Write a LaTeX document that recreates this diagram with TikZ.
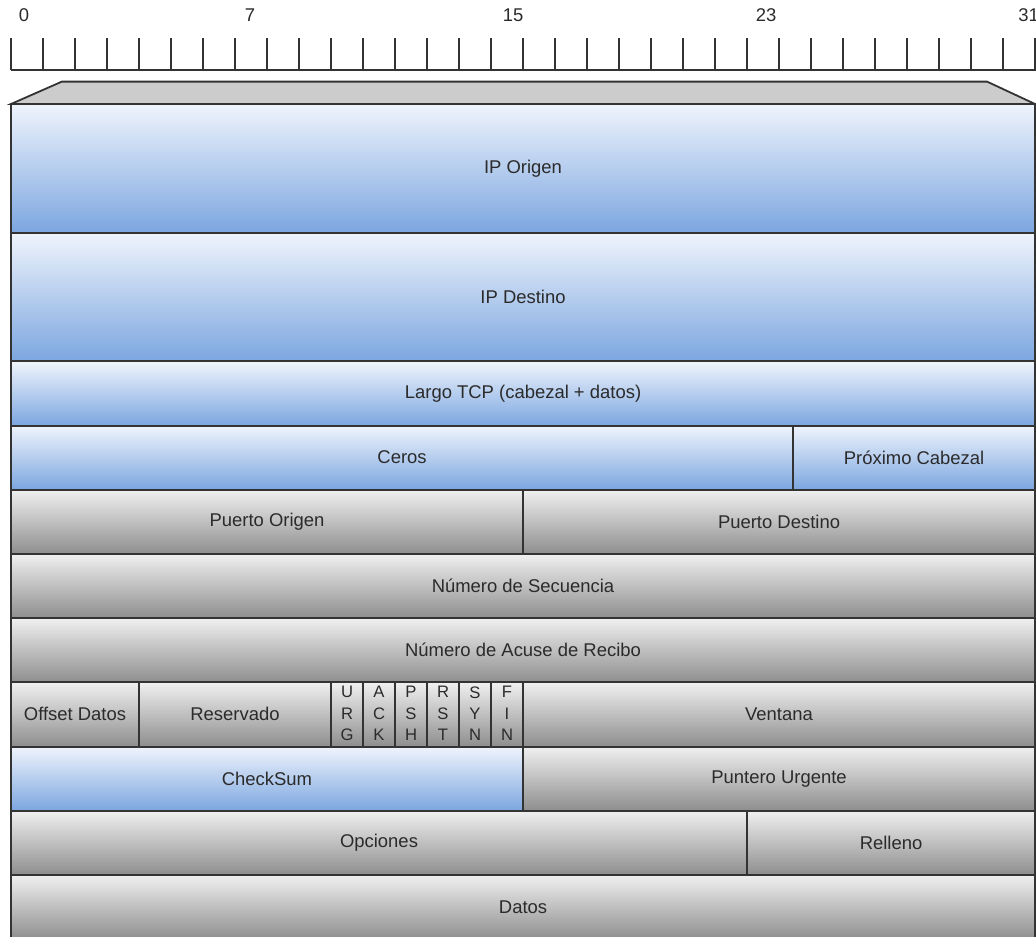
\documentclass[tikz,border=0pt]{standalone}
\usepackage{fontspec}
\setmainfont{Liberation Sans}
\definecolor{azularr}{HTML}{EFF4FC}
\definecolor{azulab}{HTML}{7CA6E0}
\definecolor{grisarr}{HTML}{F0F0F0}
\definecolor{grisab}{HTML}{8E8E8E}
\definecolor{borde}{HTML}{333333}
\definecolor{texto}{HTML}{2B2B2B}

\begin{document}
\begin{tikzpicture}[x=0.5cm,y=0.5cm,font=\fontsize{8.2}{10}\selectfont,text=texto]
		% --- Unidad: 1 bit = 0.5 cm, filas de 32 bits ---
		\useasboundingbox (-0.344,0) rectangle (32.03,-29.25);
		\tikzset{bcelda/.style={top color=azularr, bottom color=azulab, draw=borde, line width=0.8pt},
			gcelda/.style={top color=grisarr, bottom color=grisab, draw=borde, line width=0.8pt},
			flag/.style={font=\fontsize{7.4}{9.5}\selectfont, align=center, inner sep=0pt}}

		% --- Regla de bits ---
		\foreach \i in {0,...,32} \draw[borde, line width=0.6pt] (\i,-1.19) -- (\i,-2.19);
		\draw[borde, line width=0.6pt] (0,-2.19) -- (32.03,-2.19);
		\foreach \x/\b in {0.41/0, 7.47/7, 15.69/15, 23.6/23, 31.8/31}
			\node (b\b) at (\x,-0.47) {\b};

		% --- Tapa del cabezal ---
		\draw[fill=black!20, draw=borde, line width=0.8pt] (0,-3.25) -- (1.59,-2.55) -- (30.5,-2.55) -- (32,-3.25) -- cycle;

		% --- Pseudo-cabezal (azul) ---
		\draw[bcelda] (0,-3.25) rectangle (32,-7.27);  \node (iporig) at (16,-5.26) {IP Origen};
		\draw[bcelda] (0,-7.27) rectangle (32,-11.29); \node (ipdest) at (16,-9.28) {IP Destino};
		\draw[bcelda] (0,-11.29) rectangle (32,-13.3); \node (largo) at (16,-12.3) {Largo TCP (cabezal + datos)};
		\draw[bcelda] (0,-13.3) rectangle (24.44,-15.3); \node (ceros) at (12.22,-14.3) {Ceros};
		\draw[bcelda] (24.44,-13.3) rectangle (32,-15.3); \node (proxcab) at (28.22,-14.3) {Próximo Cabezal};

		% --- Cabezal TCP (gris) ---
		\draw[gcelda] (0,-15.3) rectangle (16,-17.31);  \node (ptoorig) at (8,-16.3) {Puerto Origen};
		\draw[gcelda] (16,-15.3) rectangle (32,-17.31); \node (ptodest) at (24,-16.3) {Puerto Destino};
		\draw[gcelda] (0,-17.31) rectangle (32,-19.31); \node (numsec) at (16,-18.31) {Número de Secuencia};
		\draw[gcelda] (0,-19.31) rectangle (32,-21.32); \node (numack) at (16,-20.31) {Número de Acuse de Recibo};
		\draw[gcelda] (0,-21.32) rectangle (4,-23.33);  \node (offset) at (2,-22.32) {Offset Datos};
		\draw[gcelda] (4,-21.32) rectangle (10,-23.33); \node (reserv) at (7,-22.32) {Reservado};
		\foreach \i/\f/\txt in {10/urg/{U\\R\\G}, 11/ack/{A\\C\\K}, 12/psh/{P\\S\\H}, 13/rst/{R\\S\\T}, 14/syn/{S\\Y\\N}, 15/fin/{F\\I\\N}} {
			\draw[gcelda] (\i,-21.32) rectangle (\i+1,-23.33);
			\node[flag] (\f) at (\i+0.5,-22.3) {\txt};
		}
		\draw[gcelda] (16,-21.32) rectangle (32,-23.33); \node (ventana) at (24,-22.32) {Ventana};
		\draw[bcelda] (0,-23.33) rectangle (16,-25.33);  \node (checksum) at (8,-24.33) {CheckSum};
		\draw[gcelda] (16,-23.33) rectangle (32,-25.33); \node (puntero) at (24,-24.33) {Puntero Urgente};
		\draw[gcelda] (0,-25.33) rectangle (23,-27.34);  \node (opciones) at (11.5,-26.33) {Opciones};
		\draw[gcelda] (23,-25.33) rectangle (32,-27.34); \node (relleno) at (27.5,-26.33) {Relleno};
		\draw[gcelda] (0,-27.34) rectangle (32,-29.35);  \node (datos) at (16,-28.34) {Datos};
\end{tikzpicture}
\end{document}
